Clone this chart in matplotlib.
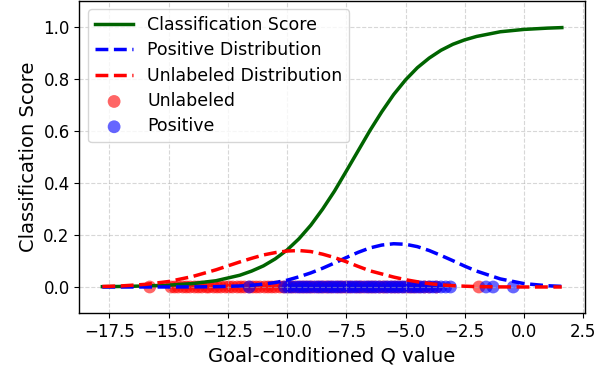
import numpy as np
import matplotlib
matplotlib.use('Agg')
import matplotlib.pyplot as plt

# curve samples
curve_x = [-17.8, -17, -16, -15, -14, -13, -12, -11.5, -11, -10.5, -10, -9.5, -9,
           -8.5, -8, -7.5, -7, -6.5, -6, -5.5, -5, -4.5, -4, -3.5, -3, -2.5, -2,
           -1, 0, 1, 1.6]
score = [0.0012, 0.002, 0.0038, 0.007, 0.013, 0.024, 0.045, 0.061, 0.081, 0.108,
         0.142, 0.185, 0.237, 0.299, 0.368, 0.445, 0.523, 0.601, 0.673, 0.739,
         0.795, 0.842, 0.879, 0.909, 0.932, 0.949, 0.962, 0.980, 0.989, 0.994, 0.996]
pos_dist = [0.0, 0.0, 0.00001, 0.00006, 0.0003, 0.0011, 0.0038, 0.0065, 0.011, 0.017,
            0.026, 0.039, 0.054, 0.072, 0.092, 0.113, 0.133, 0.150, 0.161, 0.166,
            0.164, 0.155, 0.140, 0.121, 0.101, 0.080, 0.061, 0.031, 0.013, 0.0047, 0.0024]
unl_dist = [0.0019, 0.0041, 0.010, 0.021, 0.040, 0.066, 0.096, 0.110, 0.123, 0.132,
            0.138, 0.140, 0.136, 0.126, 0.113, 0.097, 0.079, 0.062, 0.050, 0.038,
            0.028, 0.020, 0.013, 0.008, 0.005, 0.003, 0.0015, 0.0003, 0.0, 0.0, 0.0]

# sample Q values
unlabeled_q = [-15.8, -14.9, -14.75, -14.6, -14.4, -14.25, -14.1, -13.9, -13.75, -13.6,
               -13.4, -13.3, -13.1, -12.95, -12.8, -12.6, -12.45, -12.3, -12.1, -11.95,
               -11.8, -11.6, -11.45, -11.3, -11.15, -10.95, -10.8, -10.65, -10.5, -10.3,
               -10.15, -10.0, -9.85, -9.7, -9.5, -9.35, -9.2, -9.05, -8.9, -8.7,
               -8.55, -8.4, -8.25, -8.1, -7.9, -7.75, -7.6, -7.45, -7.3, -7.1,
               -6.95, -6.8, -6.6, -6.45, -6.3, -6.1, -5.95, -5.8, -5.6, -5.45,
               -5.3, -5.1, -4.9, -4.75, -4.6, -4.4, -4.2, -4.0, -3.7, -1.9]
positive_q = [-11.6, -10.1, -9.95, -9.8, -9.6, -9.45, -9.3, -9.15, -9.0, -8.8,
              -8.65, -8.5, -8.3, -8.15, -8.0, -7.85, -7.7, -7.5, -7.35, -7.2,
              -7.05, -6.9, -6.7, -6.55, -6.4, -6.25, -6.1, -5.9, -5.75, -5.6,
              -5.45, -5.3, -5.15, -5.0, -4.8, -4.65, -4.5, -4.35, -4.2, -4.0,
              -3.85, -3.7, -3.5, -3.3, -3.1, -1.6, -1.3, -0.45]

fig, ax = plt.subplots(figsize=(6.06, 3.7), dpi=100)
fig.subplots_adjust(left=0.131, right=0.965, top=0.9986, bottom=0.154)

ax.plot(curve_x, score, color='darkgreen', lw=2.5, label='Classification Score')
ax.plot(curve_x, pos_dist, 'b--', lw=2.5, label='Positive Distribution')
ax.plot(curve_x, unl_dist, 'r--', lw=2.5, label='Unlabeled Distribution')
ax.scatter(unlabeled_q, np.zeros(len(unlabeled_q)), color='red', alpha=0.6, s=85,
           edgecolors='none', label='Unlabeled')
ax.scatter(positive_q, np.zeros(len(positive_q)), color='blue', alpha=0.6, s=85,
           edgecolors='none', label='Positive')

ax.set_ylim(-0.1, 1.1)
ax.set_xlabel('Goal-conditioned Q value', fontsize=14)
ax.set_ylabel('Classification Score', fontsize=14)
ax.tick_params(labelsize=12)
for sp in ax.spines.values():
    sp.set_linewidth(1.0)
ax.grid(True, linestyle='--', alpha=0.5)
ax.legend(loc='upper left', fontsize=12.5, labelspacing=0.42, handlelength=2.2)

fig.savefig('out.png', dpi=100)
